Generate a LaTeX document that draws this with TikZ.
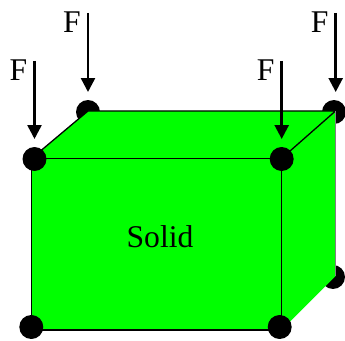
\documentclass[tikz,border=0pt]{standalone}
\usepackage{fontspec}
\setmainfont{Liberation Serif}
\usetikzlibrary{arrows.meta}
\tikzset{%
  joint/.style={circle,fill=black,inner sep=0pt,minimum size=0.48cm},
  force/.style={-{Triangle[length=0.28cm,width=0.28cm]},line width=0.05cm},
  label/.style={font=\fontsize{18}{18}\selectfont}
}

\begin{document}
\begin{tikzpicture}[x=0.02cm,y=-0.02cm]
% ---- colors ----
\definecolor{solidgreen}{HTML}{00FF00}
\useasboundingbox (0,0) rectangle (345,341);

% ---- back joints (behind the solid) ----
\node[joint] (bl) at (88,112) {};
\node[joint] (br) at (334,112) {};
\node[joint] (bb) at (333,277) {};

% ---- corners ----
\coordinate (ftl) at (31.5,158.5);
\coordinate (ftr) at (281.5,158.5);
\coordinate (fbl) at (31.5,330);
\coordinate (fbr) at (281.5,330);
\coordinate (btl) at (88,111);
\coordinate (btr) at (335.5,111);
\coordinate (bbr) at (335.5,276);

% ---- solid ----
\fill[solidgreen] (ftl) -- (btl) -- (btr) -- (bbr) -- (fbr) -- (fbl) -- cycle;
\draw[black,line width=0.026cm] (fbr) -- (fbl) -- (ftl) -- (ftr) -- (fbr);
\draw[black,line width=0.026cm] (ftl) -- (btl) -- (btr) -- (ftr);
\draw[black!50,line width=0.02cm] (btr) -- (bbr);
\node[label] (solid) at (160,237) {Solid};

% ---- front joints ----
\node[joint] (tl) at (34.5,159) {};
\node[joint] (tr) at (281.7,159) {};
\node[joint] (ll) at (31.3,327) {};
\node[joint] (lr) at (279.7,327) {};

% ---- forces ----
\foreach \n/\x/\ytop/\ytip in {a/34.5/61/139,b/88/13/92,c/281.7/61/139,d/335.7/13/92}{
  \coordinate (s\n) at (\x,\ytop);
  \coordinate (e\n) at (\x,\ytip);
  \draw[force] (s\n) -- (e\n);
  \node[label] (f\n) at (\x-16,\ytop+9) {F};
}
\end{tikzpicture}
\end{document}
